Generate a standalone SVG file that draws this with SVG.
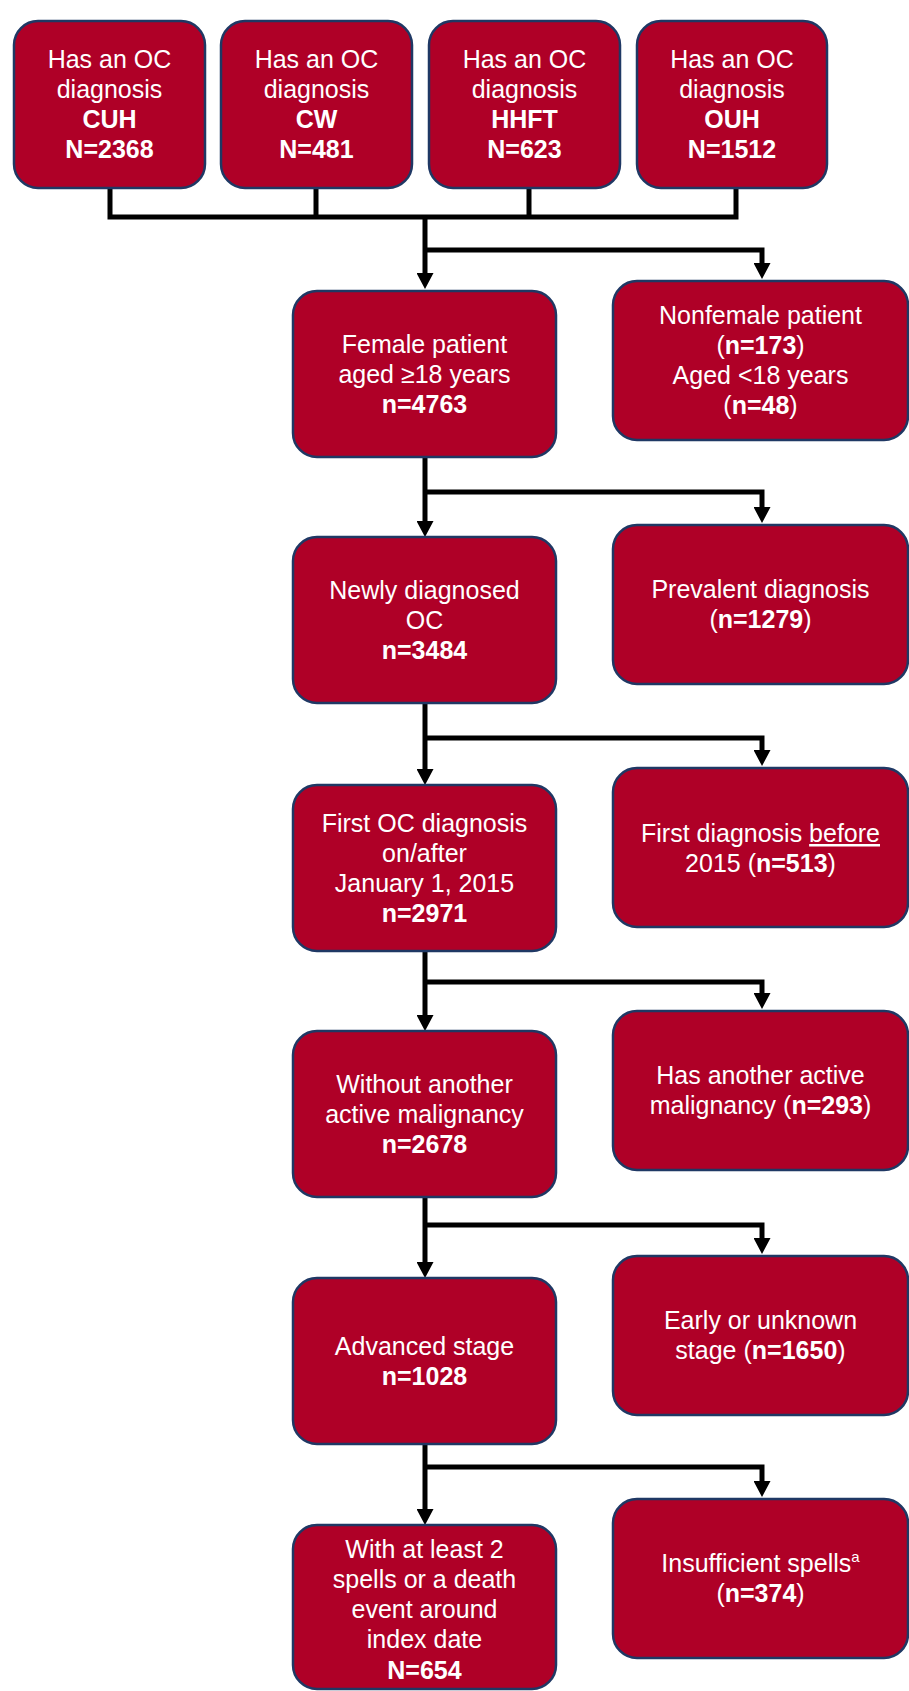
<svg xmlns="http://www.w3.org/2000/svg" width="909" height="1691" viewBox="0 0 909 1691">
<style>
.box{fill:#AF0027;stroke:#1F3864;stroke-width:2.5}
.t{font-family:"Liberation Sans",Arial,sans-serif;font-size:25px;fill:#fff;text-anchor:middle}
.b{font-weight:bold}
.c{fill:none;stroke:#000;stroke-width:5}
</style>
<defs>
<marker id="ah" markerUnits="userSpaceOnUse" markerWidth="17" markerHeight="17" refX="3" refY="8.5" orient="auto" viewBox="0 0 17 17">
<path d="M0,0 L16,8.5 L0,17 z" fill="#000"/>
</marker>
</defs>
<rect width="909" height="1691" fill="#fff"/>
<g id="connectors">
<path class="c" d="M110,188 V217 H736 V188 M316,188 V217 M529,188 V217"/>
<path class="c" d="M425,215 V276" marker-end="url(#ah)"/>
<path class="c" d="M425,250 H762 V266" marker-end="url(#ah)"/>
<path class="c" d="M425,457 V524" marker-end="url(#ah)"/>
<path class="c" d="M425,492 H762 V510" marker-end="url(#ah)"/>
<path class="c" d="M425,703 V772" marker-end="url(#ah)"/>
<path class="c" d="M425,738 H762 V753" marker-end="url(#ah)"/>
<path class="c" d="M425,951 V1018" marker-end="url(#ah)"/>
<path class="c" d="M425,982 H762 V996" marker-end="url(#ah)"/>
<path class="c" d="M425,1197 V1265" marker-end="url(#ah)"/>
<path class="c" d="M425,1225 H762 V1241" marker-end="url(#ah)"/>
<path class="c" d="M425,1444 V1512" marker-end="url(#ah)"/>
<path class="c" d="M425,1467 H762 V1484" marker-end="url(#ah)"/>
</g>
<g id="n-cuh">
<rect class="box" x="14" y="21" width="191" height="167" rx="24"/>
<text class="t" x="109.5" y="68">Has an OC</text>
<text class="t" x="109.5" y="98">diagnosis</text>
<text class="t b" x="109.5" y="128">CUH</text>
<text class="t b" x="109.5" y="158">N=2368</text>
</g>
<g id="n-cw">
<rect class="box" x="221" y="21" width="191" height="167" rx="24"/>
<text class="t" x="316.5" y="68">Has an OC</text>
<text class="t" x="316.5" y="98">diagnosis</text>
<text class="t b" x="316.5" y="128">CW</text>
<text class="t b" x="316.5" y="158">N=481</text>
</g>
<g id="n-hhft">
<rect class="box" x="429" y="21" width="191" height="167" rx="24"/>
<text class="t" x="524.5" y="68">Has an OC</text>
<text class="t" x="524.5" y="98">diagnosis</text>
<text class="t b" x="524.5" y="128">HHFT</text>
<text class="t b" x="524.5" y="158">N=623</text>
</g>
<g id="n-ouh">
<rect class="box" x="637" y="21" width="190" height="167" rx="24"/>
<text class="t" x="732" y="68">Has an OC</text>
<text class="t" x="732" y="98">diagnosis</text>
<text class="t b" x="732" y="128">OUH</text>
<text class="t b" x="732" y="158">N=1512</text>
</g>
<g id="n-female">
<rect class="box" x="293" y="291" width="263" height="166" rx="24"/>
<text class="t" x="424.5" y="353">Female patient</text>
<text class="t" x="424.5" y="383">aged ≥18 years</text>
<text class="t b" x="424.5" y="413">n=4763</text>
</g>
<g id="n-nonfemale">
<rect class="box" x="613" y="281" width="295" height="159" rx="24"/>
<text class="t" x="760.5" y="324">Nonfemale patient</text>
<text class="t" x="760.5" y="354">(<tspan class="b">n=173</tspan>)</text>
<text class="t" x="760.5" y="384">Aged &lt;18 years</text>
<text class="t" x="760.5" y="414">(<tspan class="b">n=48</tspan>)</text>
</g>
<g id="n-newly">
<rect class="box" x="293" y="537" width="263" height="166" rx="24"/>
<text class="t" x="424.5" y="599">Newly diagnosed</text>
<text class="t" x="424.5" y="629">OC</text>
<text class="t b" x="424.5" y="659">n=3484</text>
</g>
<g id="n-prevalent">
<rect class="box" x="613" y="525" width="295" height="159" rx="24"/>
<text class="t" x="760.5" y="598">Prevalent diagnosis</text>
<text class="t" x="760.5" y="628">(<tspan class="b">n=1279</tspan>)</text>
</g>
<g id="n-first">
<rect class="box" x="293" y="785" width="263" height="166" rx="24"/>
<text class="t" x="424.5" y="832">First OC diagnosis</text>
<text class="t" x="424.5" y="862">on/after</text>
<text class="t" x="424.5" y="892">January 1, 2015</text>
<text class="t b" x="424.5" y="922">n=2971</text>
</g>
<g id="n-before">
<rect class="box" x="613" y="768" width="295" height="159" rx="24"/>
<text class="t" x="760.5" y="842">First diagnosis <tspan text-decoration="underline">before</tspan></text>
<text class="t" x="760.5" y="872">2015 (<tspan class="b">n=513</tspan>)</text>
</g>
<g id="n-without">
<rect class="box" x="293" y="1031" width="263" height="166" rx="24"/>
<text class="t" x="424.5" y="1093">Without another</text>
<text class="t" x="424.5" y="1123">active malignancy</text>
<text class="t b" x="424.5" y="1153">n=2678</text>
</g>
<g id="n-another">
<rect class="box" x="613" y="1011" width="295" height="159" rx="24"/>
<text class="t" x="760.5" y="1084">Has another active</text>
<text class="t" x="760.5" y="1114">malignancy (<tspan class="b">n=293</tspan>)</text>
</g>
<g id="n-advanced">
<rect class="box" x="293" y="1278" width="263" height="166" rx="24"/>
<text class="t" x="424.5" y="1355">Advanced stage</text>
<text class="t b" x="424.5" y="1385">n=1028</text>
</g>
<g id="n-early">
<rect class="box" x="613" y="1256" width="295" height="159" rx="24"/>
<text class="t" x="760.5" y="1329">Early or unknown</text>
<text class="t" x="760.5" y="1359">stage (<tspan class="b">n=1650</tspan>)</text>
</g>
<g id="n-final">
<rect class="box" x="293" y="1525" width="263" height="164" rx="24"/>
<text class="t" x="424.5" y="1558">With at least 2</text>
<text class="t" x="424.5" y="1588">spells or a death</text>
<text class="t" x="424.5" y="1618">event around</text>
<text class="t" x="424.5" y="1648">index date</text>
<text class="t b" x="424.5" y="1679">N=654</text>
</g>
<g id="n-insufficient">
<rect class="box" x="613" y="1499" width="295" height="159" rx="24"/>
<text class="t" x="760.5" y="1572">Insufficient spells<tspan font-size="15" dy="-10">a</tspan></text>
<text class="t" x="760.5" y="1602">(<tspan class="b">n=374</tspan>)</text>
</g>
</svg>
